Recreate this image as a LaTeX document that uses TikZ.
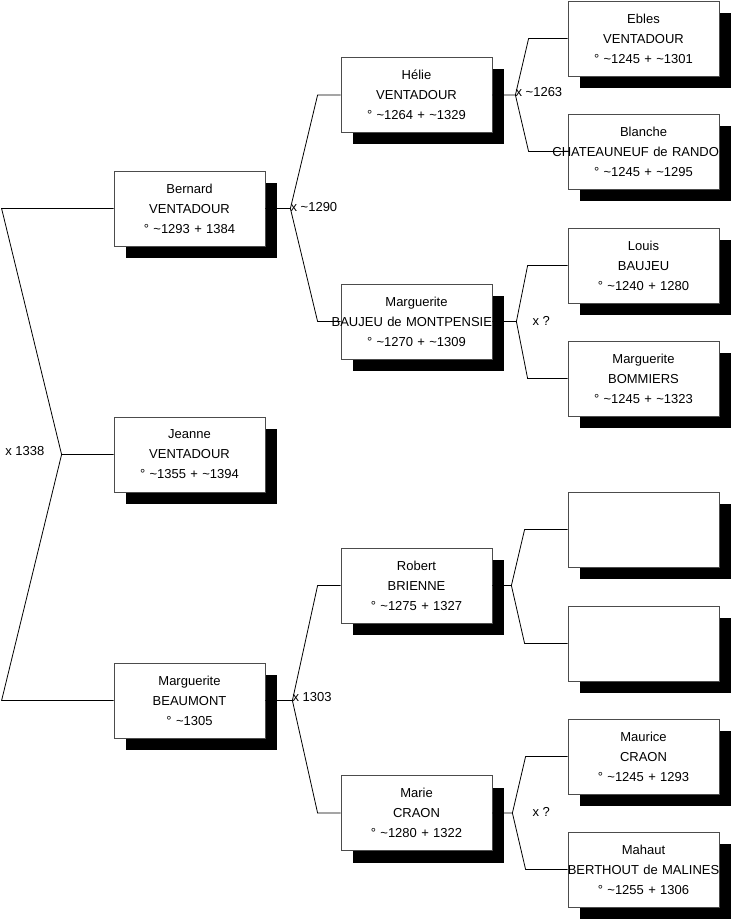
\documentclass[tikz,border=0pt]{standalone}
\usepackage{fontspec}
\setmainfont{Liberation Sans}
\usetikzlibrary{shadows}
\tikzset{
  person/.style={draw=black!70, line width=0.8pt, fill=white, text width=151pt,
    inner xsep=0pt, inner ysep=0pt, minimum height=75pt, align=center,
    font=\fontsize{13}{20}\selectfont,
    drop shadow={shadow xshift=11.5pt, shadow yshift=-12pt, fill=black, opacity=1}},
  link/.style={line width=0.8pt},
  wed/.style={inner sep=0pt, font=\fontsize{13}{16}\selectfont}
}
\newcommand{\cutname}[1]{\makebox[151pt][r]{#1}}
\newcommand{\fullname}[1]{\makebox[151pt]{#1}}
\begin{document}
\begin{tikzpicture}[x=1pt,y=-1pt]
\useasboundingbox (0,0) rectangle (731,920);
\node[person] (jeanne) at (189.5,454.5) {Jeanne\\VENTADOUR\\° \textasciitilde1355 + \textasciitilde1394};
\node[person] (bernard) at (189.5,208.5) {Bernard\\VENTADOUR\\° \textasciitilde1293 + 1384};
\node[person] (beaumont) at (189.5,700.5) {Marguerite\\BEAUMONT\\° \textasciitilde1305};
\node[person] (helie) at (416.5,95) {Hélie\\VENTADOUR\\° \textasciitilde1264 + \textasciitilde1329};
\node[person] (baujeu) at (416.5,321.5) {Marguerite\\\cutname{BAUJEU de MONTPENSIE}\\° \textasciitilde1270 + \textasciitilde1309};
\node[person] (robert) at (416.5,585.5) {Robert\\BRIENNE\\° \textasciitilde1275 + 1327};
\node[person] (marie) at (416.5,813) {Marie\\CRAON\\° \textasciitilde1280 + 1322};
\node[person] (ebles) at (643.5,38.5) {Ebles\\VENTADOUR\\° \textasciitilde1245 + \textasciitilde1301};
\node[person] (blanche) at (643.5,151.5) {Blanche\\\cutname{CHATEAUNEUF de RANDO}\\° \textasciitilde1245 + \textasciitilde1295};
\node[person] (louis) at (643.5,265.5) {Louis\\BAUJEU\\° \textasciitilde1240 + 1280};
\node[person] (bommiers) at (643.5,378.5) {Marguerite\\BOMMIERS\\° \textasciitilde1245 + \textasciitilde1323};
\node[person] (unknowna) at (643.5,529.5) {};
\node[person] (unknownb) at (643.5,643.5) {};
\node[person] (maurice) at (643.5,756.5) {Maurice\\CRAON\\° \textasciitilde1245 + 1293};
\node[person] (mahaut) at (643.5,869.5) {Mahaut\\\fullname{BERTHOUT de MALINES}\\° \textasciitilde1255 + 1306};

\coordinate (jjeanne) at ([xshift=-52pt]jeanne.west);
\draw[link] (jeanne.west) -- (jjeanne) -- ([xshift=-112pt]bernard.west) -- (bernard.west);
\draw[link] (jjeanne) -- ([xshift=-112pt]beaumont.west) -- (beaumont.west);
\node[wed, anchor=east] (wjeanne) at ([xshift=-17pt,yshift=3pt]jjeanne) {x 1338};

\coordinate (jbernard) at ([xshift=25pt]bernard.east);
\draw[link] (bernard.east) -- (jbernard) -- ([xshift=-23pt]helie.west) -- (helie.west);
\draw[link] (jbernard) -- ([xshift=-23pt]baujeu.west) -- (baujeu.west);
\node[wed, anchor=west] (wbernard) at ([yshift=1pt]jbernard) {x \textasciitilde1290};

\coordinate (jbeaumont) at ([xshift=27pt]beaumont.east);
\draw[link] (beaumont.east) -- (jbeaumont) -- ([xshift=-23pt]robert.west) -- (robert.west);
\draw[link] (jbeaumont) -- ([xshift=-23pt]marie.west) -- (marie.west);
\node[wed, anchor=west] (wbeaumont) at ([yshift=3pt]jbeaumont) {x 1303};

\coordinate (jhelie) at ([xshift=23pt]helie.east);
\draw[link] (helie.east) -- (jhelie) -- ([xshift=-39pt]ebles.west) -- (ebles.west);
\draw[link] (jhelie) -- ([xshift=-39pt]blanche.west) -- (blanche.west);
\node[wed, anchor=west] (whelie) at ([yshift=3pt]jhelie) {x \textasciitilde1263};

\coordinate (jbaujeu) at ([xshift=24pt]baujeu.east);
\draw[link] (baujeu.east) -- (jbaujeu) -- ([xshift=-40pt]louis.west) -- (louis.west);
\draw[link] (jbaujeu) -- ([xshift=-40pt]bommiers.west) -- (bommiers.west);
\node[wed, anchor=west] (wbaujeu) at ([xshift=16pt,yshift=1pt]jbaujeu) {x ?};

\coordinate (jrobert) at ([xshift=19pt]robert.east);
\draw[link] (robert.east) -- (jrobert) -- ([xshift=-43pt]unknowna.west) -- (unknowna.west);
\draw[link] (jrobert) -- ([xshift=-43pt]unknownb.west) -- (unknownb.west);

\coordinate (jmarie) at ([xshift=20pt]marie.east);
\draw[link] (marie.east) -- (jmarie) -- ([xshift=-42pt]maurice.west) -- (maurice.west);
\draw[link] (jmarie) -- ([xshift=-42pt]mahaut.west) -- (mahaut.west);
\node[wed, anchor=west] (wmarie) at ([xshift=20pt,yshift=1pt]jmarie) {x ?};
\end{tikzpicture}
\end{document}
